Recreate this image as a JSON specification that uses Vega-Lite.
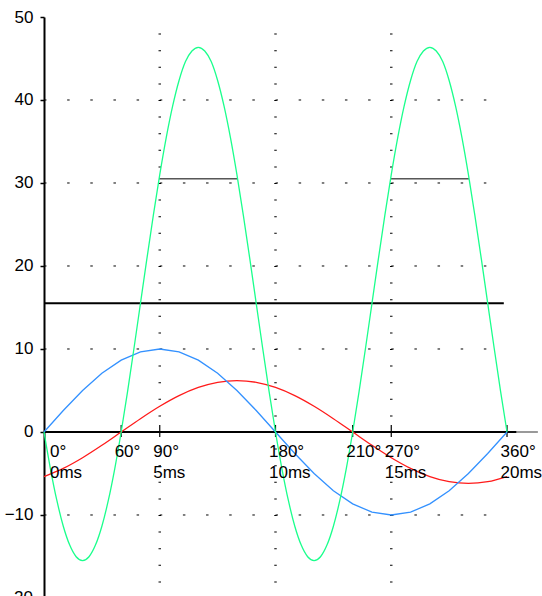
{
  "$schema": "https://vega.github.io/schema/vega-lite/v6.json",
  "width": 498,
  "height": 579,
  "autosize": {"type": "none"},
  "padding": {"left": 44, "top": 17, "right": 0, "bottom": 0},
  "background": "white",
  "config": {
    "view": {"stroke": null},
    "text": {"font": "Liberation Sans", "fontSize": 17, "color": "black"},
    "axisY": {"grid": false, "domainColor": "black", "domainWidth": 2, "tickColor": "black", "tickSize": 4, "tickWidth": 1.5,
      "labelFont": "Liberation Sans", "labelFontSize": 17, "labelColor": "black", "labelPadding": 7, "labelFlush": false, "labelOverlap": false}
  },
  "datasets": {
    "hgrid": [{"v": -10}, {"v": 10}, {"v": 20}, {"v": 30}, {"v": 40}],
    "vgrid": [{"deg": 90}, {"deg": 180}, {"deg": 270}],
    "xlabels": [
      {"deg": 0, "d": "0°", "ms": "0ms"},
      {"deg": 60, "d": "60°", "ms": ""},
      {"deg": 90, "d": "90°", "ms": "5ms"},
      {"deg": 180, "d": "180°", "ms": "10ms"},
      {"deg": 240, "d": "210°", "ms": ""},
      {"deg": 270, "d": "270°", "ms": "15ms"},
      {"deg": 360, "d": "360°", "ms": "20ms"}
    ],
    "avg": [{"x": 0, "x2": 357.5, "p": 15.5}],
    "bands": [{"x": 89.5, "x2": 150.5, "p": 30.5}, {"x": 269.5, "x2": 330.5, "p": 30.5}],
    "voltage": [
      {"deg": 0, "val": 0}, {"deg": 15, "val": 2.588}, {"deg": 30, "val": 5}, {"deg": 45, "val": 7.071},
      {"deg": 60, "val": 8.66}, {"deg": 75, "val": 9.659}, {"deg": 90, "val": 10}, {"deg": 105, "val": 9.659},
      {"deg": 120, "val": 8.66}, {"deg": 135, "val": 7.071}, {"deg": 150, "val": 5}, {"deg": 165, "val": 2.588},
      {"deg": 180, "val": 0}, {"deg": 195, "val": -2.588}, {"deg": 210, "val": -5}, {"deg": 225, "val": -7.071},
      {"deg": 240, "val": -8.66}, {"deg": 255, "val": -9.659}, {"deg": 270, "val": -10}, {"deg": 285, "val": -9.659},
      {"deg": 300, "val": -8.66}, {"deg": 315, "val": -7.071}, {"deg": 330, "val": -5}, {"deg": 345, "val": -2.588},
      {"deg": 360, "val": 0}
    ],
    "current": [
      {"deg": 0, "val": -5.369}, {"deg": 15, "val": -4.384}, {"deg": 30, "val": -3.1}, {"deg": 45, "val": -1.605},
      {"deg": 60, "val": 0}, {"deg": 75, "val": 1.605}, {"deg": 90, "val": 3.1}, {"deg": 105, "val": 4.384},
      {"deg": 120, "val": 5.369}, {"deg": 135, "val": 5.989}, {"deg": 150, "val": 6.2}, {"deg": 165, "val": 5.989},
      {"deg": 180, "val": 5.369}, {"deg": 195, "val": 4.384}, {"deg": 210, "val": 3.1}, {"deg": 225, "val": 1.605},
      {"deg": 240, "val": 0}, {"deg": 255, "val": -1.605}, {"deg": 270, "val": -3.1}, {"deg": 285, "val": -4.384},
      {"deg": 300, "val": -5.369}, {"deg": 315, "val": -5.989}, {"deg": 330, "val": -6.2}, {"deg": 345, "val": -5.989},
      {"deg": 360, "val": -5.369}
    ],
    "power": [
      {"deg": 0, "val": 0}, {"deg": 5, "val": -4.43}, {"deg": 10, "val": -8.25}, {"deg": 15, "val": -11.35},
      {"deg": 20, "val": -13.63}, {"deg": 25, "val": -15.03}, {"deg": 30, "val": -15.5}, {"deg": 35, "val": -15.03},
      {"deg": 40, "val": -13.63}, {"deg": 45, "val": -11.35}, {"deg": 50, "val": -8.25}, {"deg": 55, "val": -4.43},
      {"deg": 60, "val": 0}, {"deg": 65, "val": 4.9}, {"deg": 70, "val": 10.12}, {"deg": 75, "val": 15.5},
      {"deg": 80, "val": 20.88}, {"deg": 85, "val": 26.1}, {"deg": 90, "val": 31}, {"deg": 95, "val": 35.43},
      {"deg": 100, "val": 39.25}, {"deg": 105, "val": 42.35}, {"deg": 110, "val": 44.63}, {"deg": 115, "val": 45.9},
      {"deg": 120, "val": 46.35}, {"deg": 125, "val": 45.9}, {"deg": 130, "val": 44.63}, {"deg": 135, "val": 42.35},
      {"deg": 140, "val": 39.25}, {"deg": 145, "val": 35.43}, {"deg": 150, "val": 31}, {"deg": 155, "val": 26.1},
      {"deg": 160, "val": 20.88}, {"deg": 165, "val": 15.5}, {"deg": 170, "val": 10.12}, {"deg": 175, "val": 4.9},
      {"deg": 180, "val": 0}, {"deg": 185, "val": -4.43}, {"deg": 190, "val": -8.25}, {"deg": 195, "val": -11.35},
      {"deg": 200, "val": -13.63}, {"deg": 205, "val": -15.03}, {"deg": 210, "val": -15.5}, {"deg": 215, "val": -15.03},
      {"deg": 220, "val": -13.63}, {"deg": 225, "val": -11.35}, {"deg": 230, "val": -8.25}, {"deg": 235, "val": -4.43},
      {"deg": 240, "val": 0}, {"deg": 245, "val": 4.9}, {"deg": 250, "val": 10.12}, {"deg": 255, "val": 15.5},
      {"deg": 260, "val": 20.88}, {"deg": 265, "val": 26.1}, {"deg": 270, "val": 31}, {"deg": 275, "val": 35.43},
      {"deg": 280, "val": 39.25}, {"deg": 285, "val": 42.35}, {"deg": 290, "val": 44.63}, {"deg": 295, "val": 45.9},
      {"deg": 300, "val": 46.35}, {"deg": 305, "val": 45.9}, {"deg": 310, "val": 44.63}, {"deg": 315, "val": 42.35},
      {"deg": 320, "val": 39.25}, {"deg": 325, "val": 35.43}, {"deg": 330, "val": 31}, {"deg": 335, "val": 26.1},
      {"deg": 340, "val": 20.88}, {"deg": 345, "val": 15.5}, {"deg": 350, "val": 10.12}, {"deg": 355, "val": 4.9},
      {"deg": 360, "val": 0}
    ]
  },
  "layer": [
    {
      "data": {"name": "hgrid"},
      "mark": {"type": "rule", "color": "black", "strokeWidth": 1, "strokeDash": [2.5, 20.65]},
      "encoding": {
        "y": {"field": "v", "type": "quantitative", "scale": {"domain": [-19.76, 50], "nice": false, "zero": false},
          "axis": {"values": [-10, 0, 10, 20, 30, 40, 50], "title": null}},
        "x": {"datum": 0, "type": "quantitative", "scale": {"domain": [0, 387.2], "nice": false, "zero": false}, "axis": null},
        "x2": {"datum": 350}
      }
    },
    {
      "data": {"name": "vgrid"},
      "mark": {"type": "rule", "color": "black", "strokeWidth": 2.5, "strokeDash": [1, 15.6]},
      "encoding": {
        "x": {"field": "deg", "type": "quantitative", "scale": {"domain": [0, 387.2], "nice": false, "zero": false}, "axis": null},
        "y": {"datum": 48, "type": "quantitative", "scale": {"domain": [-19.76, 50], "nice": false, "zero": false}, "axis": {"values": [-10, 0, 10, 20, 30, 40, 50], "title": null}},
        "y2": {"datum": -19.76}
      }
    },
    {
      "data": {"values": [{}]},
      "mark": {"type": "rule", "color": "black", "strokeWidth": 2},
      "encoding": {
        "x": {"datum": 0, "type": "quantitative", "scale": {"domain": [0, 387.2], "nice": false, "zero": false}, "axis": null},
        "x2": {"datum": 367.5},
        "y": {"datum": 0, "type": "quantitative", "scale": {"domain": [-19.76, 50], "nice": false, "zero": false}, "axis": {"values": [-10, 0, 10, 20, 30, 40, 50], "title": null}}
      }
    },
    {
      "data": {"values": [{}]},
      "mark": {"type": "rule", "color": "#999999", "strokeWidth": 2},
      "encoding": {
        "x": {"datum": 367.5, "type": "quantitative", "scale": {"domain": [0, 387.2], "nice": false, "zero": false}, "axis": null},
        "x2": {"datum": 384},
        "y": {"datum": 0, "type": "quantitative", "scale": {"domain": [-19.76, 50], "nice": false, "zero": false}, "axis": {"values": [-10, 0, 10, 20, 30, 40, 50], "title": null}}
      }
    },
    {
      "data": {"name": "xlabels"},
      "transform": [{"filter": "datum.deg > 0"}],
      "mark": {"type": "rule", "color": "black", "strokeWidth": 1.2},
      "encoding": {
        "x": {"field": "deg", "type": "quantitative", "scale": {"domain": [0, 387.2], "nice": false, "zero": false}, "axis": null},
        "y": {"datum": -0.6, "type": "quantitative", "scale": {"domain": [-19.76, 50], "nice": false, "zero": false}, "axis": {"values": [-10, 0, 10, 20, 30, 40, 50], "title": null}},
        "y2": {"datum": 0.85}
      }
    },
    {
      "data": {"name": "avg"},
      "mark": {"type": "rule", "color": "black", "strokeWidth": 2},
      "encoding": {
        "x": {"field": "x", "type": "quantitative", "scale": {"domain": [0, 387.2], "nice": false, "zero": false}, "axis": null},
        "x2": {"field": "x2"},
        "y": {"field": "p", "type": "quantitative", "scale": {"domain": [-19.76, 50], "nice": false, "zero": false}, "axis": {"values": [-10, 0, 10, 20, 30, 40, 50], "title": null}}
      }
    },
    {
      "data": {"name": "bands"},
      "mark": {"type": "rule", "color": "black", "strokeWidth": 1},
      "encoding": {
        "x": {"field": "x", "type": "quantitative", "scale": {"domain": [0, 387.2], "nice": false, "zero": false}, "axis": null},
        "x2": {"field": "x2"},
        "y": {"field": "p", "type": "quantitative", "scale": {"domain": [-19.76, 50], "nice": false, "zero": false}, "axis": {"values": [-10, 0, 10, 20, 30, 40, 50], "title": null}}
      }
    },
    {
      "data": {"name": "current"},
      "mark": {"type": "line", "color": "#ff1a1a", "strokeWidth": 1.3, "interpolate": "monotone"},
      "encoding": {
        "x": {"field": "deg", "type": "quantitative", "scale": {"domain": [0, 387.2], "nice": false, "zero": false}, "axis": null},
        "y": {"field": "val", "type": "quantitative", "scale": {"domain": [-19.76, 50], "nice": false, "zero": false}, "axis": {"values": [-10, 0, 10, 20, 30, 40, 50], "title": null}}
      }
    },
    {
      "data": {"name": "voltage"},
      "mark": {"type": "line", "color": "#3391ff", "strokeWidth": 1.3},
      "encoding": {
        "x": {"field": "deg", "type": "quantitative", "scale": {"domain": [0, 387.2], "nice": false, "zero": false}, "axis": null},
        "y": {"field": "val", "type": "quantitative", "scale": {"domain": [-19.76, 50], "nice": false, "zero": false}, "axis": {"values": [-10, 0, 10, 20, 30, 40, 50], "title": null}}
      }
    },
    {
      "data": {"name": "power"},
      "mark": {"type": "line", "color": "#1aff8c", "strokeWidth": 1.3, "interpolate": "monotone"},
      "encoding": {
        "x": {"field": "deg", "type": "quantitative", "scale": {"domain": [0, 387.2], "nice": false, "zero": false}, "axis": null},
        "y": {"field": "val", "type": "quantitative", "scale": {"domain": [-19.76, 50], "nice": false, "zero": false}, "axis": {"values": [-10, 0, 10, 20, 30, 40, 50], "title": null}}
      }
    },
    {
      "data": {"name": "xlabels"},
      "transform": [{"filter": "datum.deg > 0"}],
      "mark": {"type": "text", "align": "left", "baseline": "alphabetic", "dx": -6.5, "dy": 25, "font": "Liberation Sans", "fontSize": 17, "color": "black"},
      "encoding": {
        "x": {"field": "deg", "type": "quantitative", "scale": {"domain": [0, 387.2], "nice": false, "zero": false}, "axis": null},
        "y": {"datum": 0, "type": "quantitative", "scale": {"domain": [-19.76, 50], "nice": false, "zero": false}, "axis": {"values": [-10, 0, 10, 20, 30, 40, 50], "title": null}},
        "text": {"field": "d"}
      }
    },
    {
      "data": {"name": "xlabels"},
      "transform": [{"filter": "datum.deg > 0 && datum.ms != ''"}],
      "mark": {"type": "text", "align": "left", "baseline": "alphabetic", "dx": -6.5, "dy": 46, "font": "Liberation Sans", "fontSize": 17, "color": "black"},
      "encoding": {
        "x": {"field": "deg", "type": "quantitative", "scale": {"domain": [0, 387.2], "nice": false, "zero": false}, "axis": null},
        "y": {"datum": 0, "type": "quantitative", "scale": {"domain": [-19.76, 50], "nice": false, "zero": false}, "axis": {"values": [-10, 0, 10, 20, 30, 40, 50], "title": null}},
        "text": {"field": "ms"}
      }
    },
    {
      "data": {"name": "xlabels"},
      "transform": [{"filter": "datum.deg == 0"}],
      "mark": {"type": "text", "align": "left", "baseline": "alphabetic", "dx": 6, "dy": 25, "font": "Liberation Sans", "fontSize": 17, "color": "black"},
      "encoding": {
        "x": {"field": "deg", "type": "quantitative", "scale": {"domain": [0, 387.2], "nice": false, "zero": false}, "axis": null},
        "y": {"datum": 0, "type": "quantitative", "scale": {"domain": [-19.76, 50], "nice": false, "zero": false}, "axis": {"values": [-10, 0, 10, 20, 30, 40, 50], "title": null}},
        "text": {"field": "d"}
      }
    },
    {
      "data": {"name": "xlabels"},
      "transform": [{"filter": "datum.deg == 0"}],
      "mark": {"type": "text", "align": "left", "baseline": "alphabetic", "dx": 6, "dy": 46, "font": "Liberation Sans", "fontSize": 17, "color": "black"},
      "encoding": {
        "x": {"field": "deg", "type": "quantitative", "scale": {"domain": [0, 387.2], "nice": false, "zero": false}, "axis": null},
        "y": {"datum": 0, "type": "quantitative", "scale": {"domain": [-19.76, 50], "nice": false, "zero": false}, "axis": {"values": [-10, 0, 10, 20, 30, 40, 50], "title": null}},
        "text": {"field": "ms"}
      }
    },
    {
      "data": {"values": [{"t": "-20"}]},
      "mark": {"type": "text", "align": "right", "baseline": "middle", "dx": -11, "font": "Liberation Sans", "fontSize": 17, "color": "black"},
      "encoding": {
        "x": {"datum": 0, "type": "quantitative", "scale": {"domain": [0, 387.2], "nice": false, "zero": false}, "axis": null},
        "y": {"datum": -20, "type": "quantitative", "scale": {"domain": [-19.76, 50], "nice": false, "zero": false}, "axis": {"values": [-10, 0, 10, 20, 30, 40, 50], "title": null}},
        "text": {"field": "t"}
      }
    }
  ]
}
